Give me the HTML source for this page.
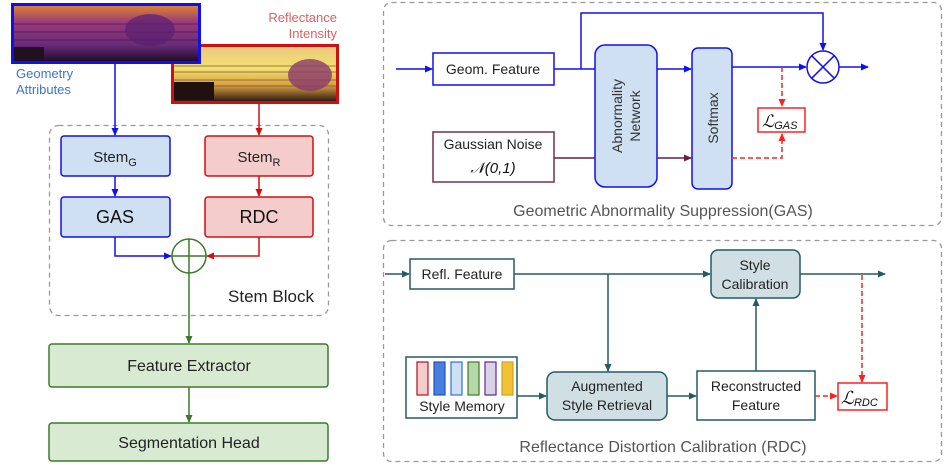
<!DOCTYPE html>
<html><head><meta charset="utf-8"><style>
html,body{margin:0;padding:0;background:#fff;width:947px;height:467px;overflow:hidden}
text{font-family:"Liberation Sans",sans-serif}
</style></head><body>
<svg width="947" height="467" viewBox="0 0 947 467" xmlns="http://www.w3.org/2000/svg">
<defs>
<marker id="ab" markerWidth="8" markerHeight="8" refX="7" refY="4" orient="auto" markerUnits="userSpaceOnUse"><path d="M0,0.5 L8,4 L0,7.5 Z" fill="#1010ee"/></marker>
<marker id="ar" markerWidth="8" markerHeight="8" refX="7" refY="4" orient="auto" markerUnits="userSpaceOnUse"><path d="M0,0.5 L8,4 L0,7.5 Z" fill="#d01010"/></marker>
<marker id="ag" markerWidth="8" markerHeight="8" refX="7" refY="4" orient="auto" markerUnits="userSpaceOnUse"><path d="M0,0.5 L8,4 L0,7.5 Z" fill="#3a7a28"/></marker>
<marker id="am" markerWidth="8" markerHeight="8" refX="7" refY="4" orient="auto" markerUnits="userSpaceOnUse"><path d="M0,0.5 L8,4 L0,7.5 Z" fill="#6a1f45"/></marker>
<marker id="at" markerWidth="8" markerHeight="8" refX="7" refY="4" orient="auto" markerUnits="userSpaceOnUse"><path d="M0,0.5 L8,4 L0,7.5 Z" fill="#235a66"/></marker>
<marker id="arr" markerWidth="8" markerHeight="8" refX="7" refY="4" orient="auto" markerUnits="userSpaceOnUse"><path d="M0,0.5 L8,4 L0,7.5 Z" fill="#ff2020"/></marker>
<linearGradient id="gp" x1="0" y1="0" x2="0" y2="1"><stop offset="0" stop-color="#e0882a"/><stop offset="0.3" stop-color="#9a3c7a"/><stop offset="0.7" stop-color="#6a2a7a"/><stop offset="1" stop-color="#1a0a20"/></linearGradient>
<linearGradient id="gy" x1="0" y1="0" x2="0" y2="1"><stop offset="0" stop-color="#e8c880"/><stop offset="0.4" stop-color="#f4e070"/><stop offset="0.7" stop-color="#d8a040"/><stop offset="1" stop-color="#201010"/></linearGradient>
</defs>

<!-- Lidar images -->
<rect x="172.5" y="45.5" width="165" height="57" fill="url(#gy)" stroke="#d01010" stroke-width="3"/>
<g stroke="#5a3a3a" stroke-width="1" opacity="0.6">
<line x1="174" y1="66" x2="336" y2="66"/><line x1="174" y1="72" x2="336" y2="72"/><line x1="174" y1="80" x2="336" y2="80"/><line x1="174" y1="86" x2="336" y2="86"/>
</g>
<rect x="174" y="82" width="40" height="18" fill="#201010"/>
<ellipse cx="310" cy="75" rx="22" ry="16" fill="#8a3a6a" opacity="0.8"/>
<rect x="12.5" y="4.5" width="187" height="58" fill="url(#gp)" stroke="#1010ee" stroke-width="3"/>
<g stroke="#3a1040" stroke-width="1" opacity="0.6">
<line x1="14" y1="24" x2="198" y2="24"/><line x1="14" y1="32" x2="198" y2="32"/><line x1="14" y1="40" x2="198" y2="40"/>
</g>
<ellipse cx="150" cy="30" rx="25" ry="16" fill="#5a2070" opacity="0.7"/>
<rect x="14" y="47" width="30" height="14" fill="#201020"/>

<text x="337" y="22" font-size="13" fill="#e06060" text-anchor="end">Reflectance</text>
<text x="337" y="38" font-size="13" fill="#e06060" text-anchor="end">Intensity</text>
<text x="16" y="78" font-size="13" fill="#3b74d8">Geometry</text>
<text x="16" y="94" font-size="13" fill="#3b74d8">Attributes</text>

<!-- Stem block -->
<rect x="49.5" y="125.5" width="279" height="190" rx="9" fill="none" stroke="#999" stroke-dasharray="5,4" stroke-width="1.3"/>
<line x1="115" y1="64" x2="115" y2="135" stroke="#1010ee" stroke-width="1.5" marker-end="url(#ab)"/>
<line x1="259" y1="104" x2="259" y2="135" stroke="#d01010" stroke-width="1.5" marker-end="url(#ar)"/>
<rect x="61" y="136" width="109" height="40" rx="3" fill="#cfe0f2" stroke="#1010ee" stroke-width="1.5"/>
<text x="115" y="162" font-size="15" text-anchor="middle" fill="#222">Stem<tspan font-size="11" dy="4">G</tspan></text>
<rect x="205" y="136" width="108" height="40" rx="3" fill="#f4cccc" stroke="#d01010" stroke-width="1.5"/>
<text x="259" y="162" font-size="15" text-anchor="middle" fill="#222">Stem<tspan font-size="11" dy="4">R</tspan></text>
<line x1="115" y1="176" x2="115" y2="196" stroke="#1010ee" stroke-width="1.5" marker-end="url(#ab)"/>
<line x1="259" y1="176" x2="259" y2="196" stroke="#d01010" stroke-width="1.5" marker-end="url(#ar)"/>
<rect x="61" y="197" width="109" height="40" rx="3" fill="#cfe0f2" stroke="#1010ee" stroke-width="1.5"/>
<text x="115" y="223" font-size="18" text-anchor="middle" fill="#111">GAS</text>
<rect x="205" y="197" width="108" height="40" rx="3" fill="#f4cccc" stroke="#d01010" stroke-width="1.5"/>
<text x="259" y="223" font-size="18" text-anchor="middle" fill="#111">RDC</text>
<polyline points="115,237 115,256 171,256" fill="none" stroke="#1010ee" stroke-width="1.5" marker-end="url(#ab)"/>
<polyline points="259,237 259,256 207,256" fill="none" stroke="#d01010" stroke-width="1.5" marker-end="url(#ar)"/>
<circle cx="189" cy="256" r="17" fill="none" stroke="#3a7a28" stroke-width="1.5"/>
<line x1="172" y1="256" x2="206" y2="256" stroke="#3a7a28" stroke-width="1.5"/>
<line x1="189" y1="239" x2="189" y2="273" stroke="#3a7a28" stroke-width="1.5"/>
<text x="314" y="302" font-size="17" text-anchor="end" fill="#222">Stem Block</text>
<line x1="189" y1="273" x2="189" y2="343" stroke="#3a7a28" stroke-width="1.5" marker-end="url(#ag)"/>
<rect x="49" y="344" width="279" height="43" rx="3" fill="#d9ead3" stroke="#3a7a28" stroke-width="1.5"/>
<text x="189" y="371" font-size="16" text-anchor="middle" fill="#222">Feature Extractor</text>
<line x1="189" y1="387" x2="189" y2="422" stroke="#3a7a28" stroke-width="1.5" marker-end="url(#ag)"/>
<rect x="49" y="423" width="279" height="38" rx="3" fill="#d9ead3" stroke="#3a7a28" stroke-width="1.5"/>
<text x="189" y="448" font-size="16" text-anchor="middle" fill="#222">Segmentation Head</text>

<!-- GAS panel -->
<rect x="383.5" y="2.5" width="558" height="223" rx="8" fill="none" stroke="#999" stroke-dasharray="5,4" stroke-width="1.3"/>
<line x1="396" y1="69" x2="432" y2="69" stroke="#1010ee" stroke-width="1.5" marker-end="url(#ab)"/>
<rect x="433" y="53" width="121" height="32" fill="#fff" stroke="#1010ee" stroke-width="1.5"/>
<text x="493" y="74" font-size="14" text-anchor="middle" fill="#222">Geom. Feature</text>
<polyline points="554,69 595,69" fill="none" stroke="#1010ee" stroke-width="1.5"/>
<polyline points="581,69 581,13 823,13 823,50" fill="none" stroke="#1010ee" stroke-width="1.5" marker-end="url(#ab)"/>
<rect x="433" y="132" width="121" height="50" fill="#fff" stroke="#7b2d4e" stroke-width="1.5"/>
<text x="493" y="149" font-size="14" text-anchor="middle" fill="#222">Gaussian Noise</text>
<text x="493" y="173" font-size="15" text-anchor="middle" fill="#111" font-family="Liberation Serif,serif" font-style="italic">𝒩(0,1)</text>
<line x1="554" y1="158" x2="595" y2="158" stroke="#6a1f45" stroke-width="1.5"/>
<rect x="595" y="45" width="62" height="142" rx="10" fill="#cfe0f2" stroke="#1010ee" stroke-width="1.5"/>
<text transform="translate(622,116) rotate(-90)" font-size="14" text-anchor="middle" fill="#333">Abnormality</text>
<text transform="translate(640,116) rotate(-90)" font-size="14" text-anchor="middle" fill="#333">Network</text>
<line x1="657" y1="69" x2="691" y2="69" stroke="#1010ee" stroke-width="1.5" marker-end="url(#ab)"/>
<line x1="657" y1="158" x2="691" y2="158" stroke="#6a1f45" stroke-width="1.5" marker-end="url(#am)"/>
<rect x="692" y="48" width="40" height="141" rx="6" fill="#cfe0f2" stroke="#1010ee" stroke-width="1.5"/>
<text transform="translate(718,118) rotate(-90)" font-size="14" text-anchor="middle" fill="#333">Softmax</text>
<line x1="732" y1="67" x2="806" y2="67" stroke="#1010ee" stroke-width="1.5" marker-end="url(#ab)"/>
<circle cx="823" cy="67" r="16" fill="#fff" stroke="#1010ee" stroke-width="1.5"/>
<line x1="811.7" y1="55.7" x2="834.3" y2="78.3" stroke="#1010ee" stroke-width="1.5"/>
<line x1="834.3" y1="55.7" x2="811.7" y2="78.3" stroke="#1010ee" stroke-width="1.5"/>
<line x1="839" y1="67" x2="868" y2="67" stroke="#1010ee" stroke-width="1.5" marker-end="url(#ab)"/>
<line x1="782" y1="67" x2="782" y2="106" stroke="#ff2020" stroke-width="1.5" stroke-dasharray="5,3" marker-end="url(#arr)"/>
<polyline points="732,158 782,158 782,134" fill="none" stroke="#ff2020" stroke-width="1.5" stroke-dasharray="5,3" marker-end="url(#arr)"/>
<rect x="758" y="108" width="47" height="24" fill="#fff" stroke="#ff2020" stroke-width="1.5"/>
<text x="762" y="127" font-size="17" fill="#111" font-family="Liberation Serif,serif" font-style="italic">ℒ<tspan font-size="11" dy="2">GAS</tspan></text>
<text x="663" y="216" font-size="16" text-anchor="middle" fill="#555">Geometric Abnormality Suppression(GAS)</text>

<!-- RDC panel -->
<rect x="383.5" y="240.5" width="558" height="221" rx="8" fill="none" stroke="#999" stroke-dasharray="5,4" stroke-width="1.3"/>
<line x1="385" y1="274" x2="409" y2="274" stroke="#235a66" stroke-width="1.5" marker-end="url(#at)"/>
<rect x="410" y="259" width="104" height="30" fill="#fff" stroke="#235a66" stroke-width="1.5"/>
<text x="462" y="279" font-size="14" text-anchor="middle" fill="#222">Refl. Feature</text>
<line x1="514" y1="274" x2="710" y2="274" stroke="#235a66" stroke-width="1.5" marker-end="url(#at)"/>
<line x1="608" y1="274" x2="608" y2="371" stroke="#235a66" stroke-width="1.5" marker-end="url(#at)"/>
<rect x="711" y="250" width="89" height="48" rx="7" fill="#d0dfe3" stroke="#235a66" stroke-width="1.5"/>
<text x="755" y="270" font-size="14" text-anchor="middle" fill="#222">Style</text>
<text x="755" y="289" font-size="14" text-anchor="middle" fill="#222">Calibration</text>
<line x1="800" y1="274" x2="885" y2="274" stroke="#235a66" stroke-width="1.5" marker-end="url(#at)"/>
<line x1="862" y1="275" x2="862" y2="382" stroke="#ff2020" stroke-width="1.5" stroke-dasharray="5,3" marker-end="url(#arr)"/>
<rect x="406" y="357" width="111" height="61" fill="#fff" stroke="#235a66" stroke-width="1.5"/>
<rect x="417" y="362" width="11" height="33" fill="#f4cccc" stroke="#b01020" stroke-width="1.2"/>
<rect x="434" y="362" width="11" height="33" fill="#4a7de0" stroke="#2050c0" stroke-width="1.2"/>
<rect x="451" y="362" width="11" height="33" fill="#cfe0f2" stroke="#3070e0" stroke-width="1.2"/>
<rect x="468" y="362" width="11" height="33" fill="#b6d7a8" stroke="#3a7a28" stroke-width="1.2"/>
<rect x="485" y="362" width="11" height="33" fill="#d9d2e9" stroke="#5a2a8a" stroke-width="1.2"/>
<rect x="502" y="362" width="11" height="33" fill="#f1c232" stroke="#d0a020" stroke-width="1.2"/>
<text x="462" y="411" font-size="14" text-anchor="middle" fill="#222">Style Memory</text>
<line x1="517" y1="396" x2="546" y2="396" stroke="#235a66" stroke-width="1.5" marker-end="url(#at)"/>
<rect x="547" y="372" width="120" height="48" rx="8" fill="#d0dfe3" stroke="#235a66" stroke-width="1.5"/>
<text x="607" y="391" font-size="14" text-anchor="middle" fill="#222">Augmented</text>
<text x="607" y="410" font-size="14" text-anchor="middle" fill="#222">Style Retrieval</text>
<line x1="667" y1="396" x2="696" y2="396" stroke="#235a66" stroke-width="1.5" marker-end="url(#at)"/>
<rect x="697" y="371" width="118" height="49" fill="#fff" stroke="#235a66" stroke-width="1.5"/>
<text x="756" y="391" font-size="14" text-anchor="middle" fill="#222">Reconstructed</text>
<text x="756" y="410" font-size="14" text-anchor="middle" fill="#222">Feature</text>
<line x1="756" y1="371" x2="756" y2="299" stroke="#235a66" stroke-width="1.5" marker-end="url(#at)"/>
<line x1="815" y1="396" x2="837" y2="396" stroke="#ff2020" stroke-width="1.5" stroke-dasharray="5,3" marker-end="url(#arr)"/>
<rect x="838" y="383" width="49" height="27" fill="#fff" stroke="#ff2020" stroke-width="1.5"/>
<text x="841" y="404" font-size="18" fill="#111" font-family="Liberation Serif,serif" font-style="italic">ℒ<tspan font-size="11" dy="2">RDC</tspan></text>
<text x="663" y="452" font-size="16" text-anchor="middle" fill="#555">Reflectance Distortion Calibration (RDC)</text>
</svg>
</body></html>
